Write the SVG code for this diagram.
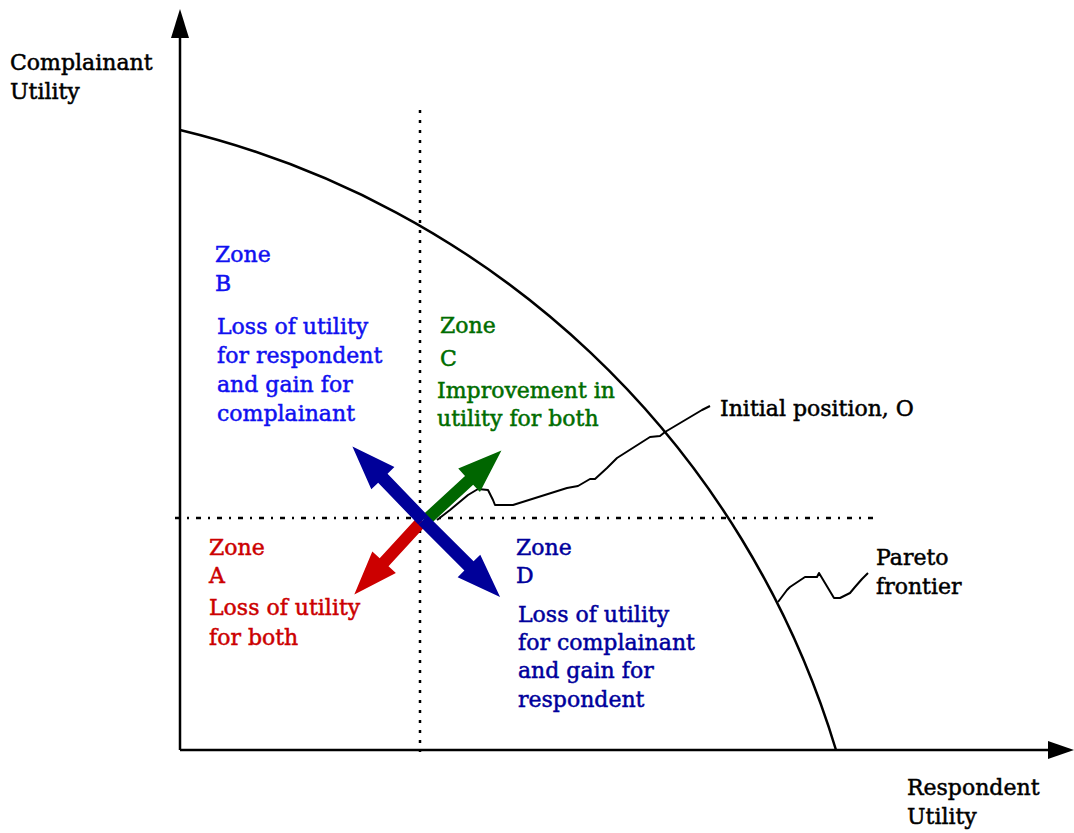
<svg xmlns="http://www.w3.org/2000/svg" width="1074" height="833" viewBox="0 0 1074 833">
<style>
text{font-family:"DejaVu Serif","Liberation Serif",serif;font-size:22px;stroke-width:0.5px}
.k{fill:#000;stroke:#000}
.b{fill:#1010f0;stroke:#1010f0}
.d{fill:#00009c;stroke:#00009c}
.g{fill:#006d00;stroke:#006d00}
.r{fill:#cc0000;stroke:#cc0000}
.ax{stroke:#000;stroke-width:2.5;fill:none}
.ld{stroke:#000;stroke-width:2;fill:none;stroke-linejoin:round}
</style>
<rect width="1074" height="833" fill="#fff"/>
<g id="axes">
<line class="ax" x1="180" y1="750" x2="180" y2="30"/>
<polygon points="180,9 171,38 189,38" fill="#000"/>
<line class="ax" x1="180" y1="750" x2="1052" y2="750"/>
<polygon points="1074,750 1048,741 1048,759" fill="#000"/>
<line x1="420" y1="110" x2="420" y2="752" stroke="#000" stroke-width="2.5" stroke-dasharray="3,7"/>
<line x1="175" y1="518" x2="875" y2="518" stroke="#000" stroke-width="2.5" stroke-dasharray="5,7,2,7"/>
</g>
<g id="pareto-curve">
<path class="ax" d="M180,130 A907.5,907.5 0 0 1 836,750"/>
</g>
<g id="connectors">
<path class="ld" d="M437,520 L450,510 L468,495 L478,489 L488,490 L493,500 L495,505 L513,505 L567,488 L578,486 L590,479 L595,479 L607,468 L617,458 L650,437 L660,436 L665,432 L702,410 L710,406"/>
<path class="ld" d="M778,602 L787,590 L790,587 L805,577 L817,577 L819,573 L834,598 L840,598 L850,593 L855,587 L862,579 L868,573"/>
</g>
<g id="arrows">
<path fill="#cc0000" transform="translate(422,521) rotate(132.6)" d="M0,-6 H56 V-16 L100,0 L56,16 V6 H0 Z"/>
<path fill="#006600" transform="translate(425,521) rotate(-42.7)" d="M0,-6 H60 V-16 L104,0 L60,16 V6 H0 Z"/>
<path fill="#000099" transform="translate(423,520) rotate(-133.8)" d="M0,-6.5 H58 V-16 L102,0 L58,16 V6.5 H0 Z"/>
<path fill="#000099" transform="translate(423,520) rotate(45)" d="M0,-6.5 H65 V-16 L109,0 L65,16 V6.5 H0 Z"/>
</g>
<g id="label-complainant">
<text class="k" x="10" y="70">Complainant</text>
<text class="k" x="10" y="99">Utility</text>
</g>
<g id="label-respondent">
<text class="k" x="907" y="795">Respondent</text>
<text class="k" x="907" y="824">Utility</text>
</g>
<g id="zone-b">
<text class="b" x="215" y="262">Zone</text>
<text class="b" x="215" y="291">B</text>
<text class="b" x="217" y="334">Loss of utility</text>
<text class="b" x="217" y="363">for respondent</text>
<text class="b" x="217" y="392">and gain for</text>
<text class="b" x="217" y="421">complainant</text>
</g>
<g id="zone-c">
<text class="g" x="440" y="333">Zone</text>
<text class="g" x="440" y="366">C</text>
<text class="g" x="437" y="398">Improvement in</text>
<text class="g" x="437" y="426">utility for both</text>
</g>
<g id="zone-a">
<text class="r" x="209" y="555">Zone</text>
<text class="r" x="209" y="583">A</text>
<text class="r" x="209" y="615">Loss of utility</text>
<text class="r" x="209" y="645">for both</text>
</g>
<g id="zone-d">
<text class="d" x="516" y="555">Zone</text>
<text class="d" x="516" y="583">D</text>
<text class="d" x="518" y="622">Loss of utility</text>
<text class="d" x="518" y="650">for complainant</text>
<text class="d" x="518" y="678">and gain for</text>
<text class="d" x="518" y="707">respondent</text>
</g>
<g id="label-initial">
<text class="k" x="720" y="416">Initial position, O</text>
</g>
<g id="label-pareto">
<text class="k" x="876" y="565">Pareto</text>
<text class="k" x="876" y="594">frontier</text>
</g>
</svg>
